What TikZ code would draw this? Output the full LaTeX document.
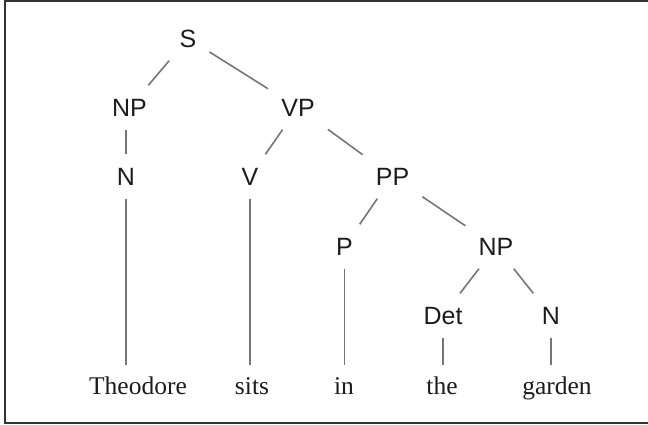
\documentclass[tikz,border=0pt]{standalone}
\usepackage{fontspec}
\setmainfont{Liberation Serif}
\newfontfamily\labelfont{Liberation Sans}
\definecolor{edgegray}{RGB}{118,118,118}
\definecolor{ink}{RGB}{28,28,28}
\definecolor{framegray}{RGB}{50,50,50}
\begin{document}
\begin{tikzpicture}[x=1pt,y=-1pt,
  cat/.style={font=\labelfont\fontsize{25}{30}\selectfont, text=ink,
    text height=18pt, text depth=0pt, inner sep=13pt},
  word/.style={font=\fontsize{25.5}{30}\selectfont, text=ink, anchor=base,
    text height=17.5pt, text depth=6pt, inner xsep=2pt, inner ysep=11pt},
  branch/.style={draw=edgegray, line width=1.6pt},
  frame/.style={draw=framegray, line width=2pt}]
\useasboundingbox (0,0) rectangle (648,425);
% open frame (right side runs off the page)
\draw[frame] (648,1.5) -- (4.5,1.5) -- (4.5,423) -- (648,423);

% category labels
\node[cat] (S)   at (188,38.5)   {S};
\node[cat] (NPa) at (129.5,107.5) {NP};
\node[cat] (VP)  at (298,107.5)  {VP};
\node[cat] (Na)  at (126,176.5)  {N};
\node[cat] (V)   at (250,176.5)  {V};
\node[cat] (PP)  at (392.5,176.5) {PP};
\node[cat] (P)   at (344.5,246.5) {P};
\node[cat] (NPb) at (496,246.5)  {NP};
\node[cat] (Det) at (443,315.5)  {Det};
\node[cat] (Nb)  at (551,315.5)  {N};

% words
\node[word] (w1) at (138,394) {Theodore};
\node[word] (w2) at (252,394) {sits};
\node[word] (w3) at (344,394) {in};
\node[word] (w4) at (442,394) {the};
\node[word] (w5) at (557,394) {garden};

% branches
\draw[branch] (S) -- (NPa);
\draw[branch] (S) -- (VP);
\draw[branch] (NPa.south -| Na) -- (Na.north);
\draw[branch] (VP) -- (V);
\draw[branch] (VP) -- (PP);
\draw[branch] (PP) -- (P);
\draw[branch] (PP) -- (NPb);
\draw[branch] (NPb) -- (Det);
\draw[branch] (NPb) -- (Nb);

% lexical attachments
\draw[branch] (Na.south)  -- (Na |- w1.north);
\draw[branch] (V.south)   -- (V |- w2.north);
\draw[branch] (P.south)   -- (P |- w3.north);
\draw[branch] (Det.south) -- (Det |- w4.north);
\draw[branch] (Nb.south)  -- (Nb |- w5.north);
\end{tikzpicture}
\end{document}
